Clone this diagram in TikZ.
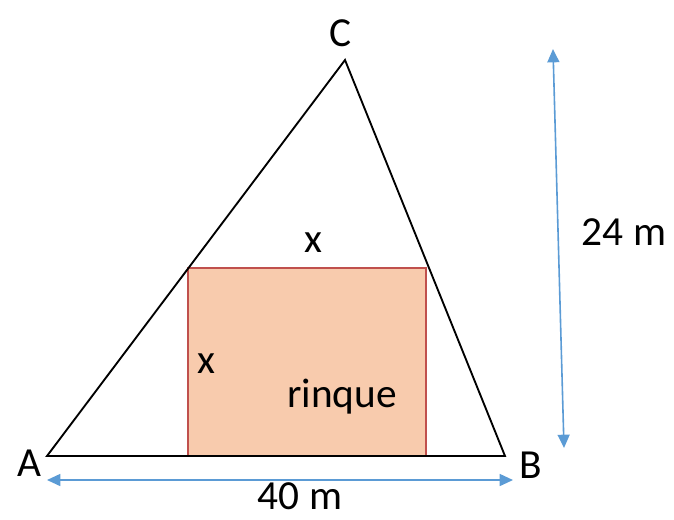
\documentclass[tikz,border=0pt]{standalone}
\usepackage{fontspec}
\setmainfont{Carlito}
\usetikzlibrary{arrows.meta}
\definecolor{quota}{HTML}{5B9BD5}
\definecolor{rinquefill}{HTML}{F8CBAD}
\definecolor{rinquebordo}{HTML}{C0504D}
\tikzset{
    etichetta/.style={font=\fontsize{31}{36}\selectfont, inner sep=0pt},
    freccia/.style={quota, line width=1.2pt, {Triangle[length=10pt,width=9pt]}-{Triangle[length=10pt,width=9pt]}}
}
\begin{document}
\begin{tikzpicture}[x={(0.75pt,0)}, y={(0,-0.75pt)}]
        \useasboundingbox (0,0) rectangle (674,519);
        % Vertici
        \coordinate (A) at (47,456);
        \coordinate (B) at (505,456);
        \coordinate (C) at (345,60);
        \coordinate (R1) at (188,268);
        \coordinate (R2) at (426,456);
        % Rinque
        \draw [fill=rinquefill, draw=rinquebordo, line width=1.1pt] (R1) rectangle (R2);
        % Triangolo
        \draw [line width=1.4pt, line join=miter] (A) -- (B) -- (C) -- cycle;
        % Quote
        \coordinate (q1) at (47,480);
        \coordinate (q2) at (513,480);
        \coordinate (h1) at (553,49);
        \coordinate (h2) at (564,448);
        \draw [freccia] (q1) -- (q2);
        \draw [freccia] (h1) -- (h2);
        % Etichette
        \node [etichetta] (lC) at (341,33) {C};
        \node [etichetta] (lA) at (29,463) {A};
        \node [etichetta] (lB) at (531,465) {B};
        \node [etichetta] (lxa) at (313,243) {x};
        \node [etichetta] (lxs) at (206,364) {x};
        \node [etichetta] (lr) at (342,397) {rinque};
        \node [etichetta] (lh) at (624,232) {24 m};
        \node [etichetta] (lb) at (300,496) {40 m};
    \end{tikzpicture}
\end{document}
